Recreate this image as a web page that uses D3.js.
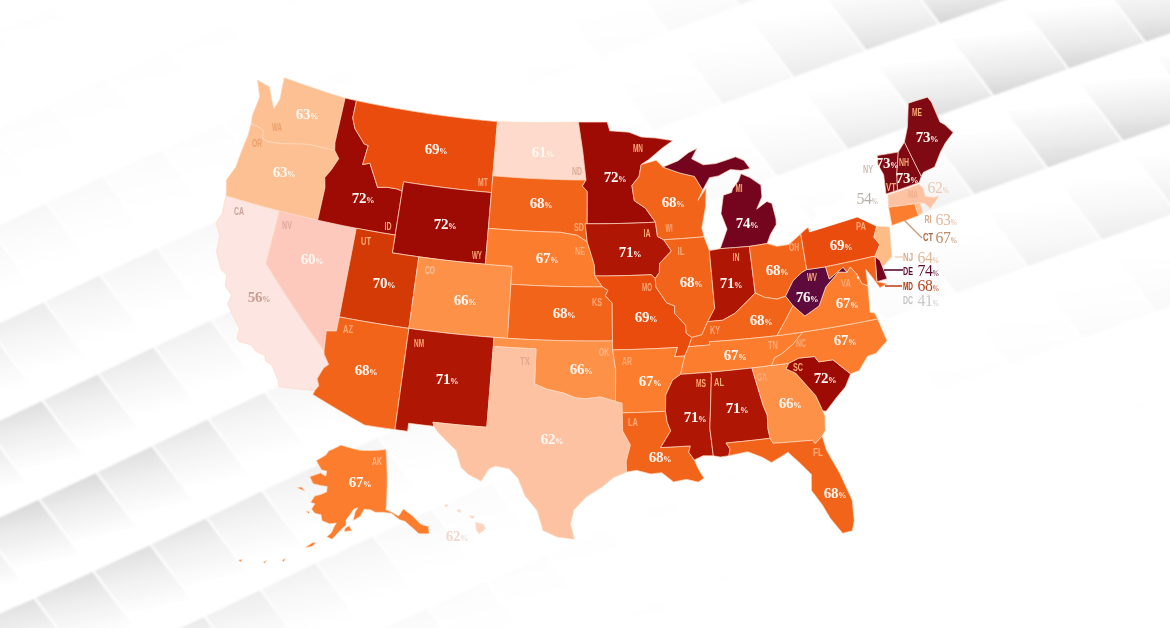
<!DOCTYPE html>
<html>
<head>
<meta charset="utf-8">
<script src="https://cdn.jsdelivr.net/npm/d3@7"></script>
<style>
  html, body { margin: 0; padding: 0; background: #fff; }
  svg { display: block; }
  .state { stroke-width: 0.7; stroke-linejoin: round; }
  .abbr { font-family: "Liberation Sans", sans-serif; font-weight: 700; font-size: 11.5px; text-anchor: middle; }
  .val { font-family: "Liberation Serif", serif; font-weight: 700; font-size: 15px; letter-spacing: -0.3px; text-anchor: middle; }
  .val tspan { font-size: 8.5px; }
  .val.outer { font-weight: 400; font-size: 17.5px; }
  .val.outer tspan { font-size: 8px; }
</style>
</head>
<body>
<svg id="chart" width="1170" height="628"></svg>
<script>
// values, same order everywhere
const stateIds = ["WA","OR","CA","NV","ID","MT","WY","UT","CO","AZ","NM","ND","SD","NE","KS","OK","TX","MN","IA","MO","AR","LA","WI","IL","MI","IN","OH","KY","TN","MS","AL","GA","FL","SC","NC","VA","WV","PA","NY","NJ","DE","MD","DC","CT","RI","MA","VT","NH","ME","AK","HI"];
const stateValues = [63,63,56,60,72,69,72,70,66,68,71,61,68,67,68,66,62,72,71,69,67,68,68,68,74,71,68,68,67,71,71,66,68,72,67,67,76,69,54,64,74,68,41,67,63,62,73,73,73,67,62];

const colorValues = [41,54,56,60,61,62,63,64,66,67,68,69,70,71,72,73,74,76];
const colorRange = ["#ffffff","#ffffff","#fde5e1","#fdc9bd","#fddacb","#fdc2a2","#fdc092","#fdbb86","#fd9148","#fb7d2d","#f3641b","#e94c0d","#d33a05","#b01604","#9e0a04","#7f0a14","#75041f","#5e0a3c"];

// outlines as lon/lat rings
const WA = [[[-124.53,48.71],[-123.4,48.54],[-122.92,47.88],[-122.54,47.43],[-122.29,48.01],[-122.43,49.27],[-117.03,49],[-117.04,46.42],[-116.92,46],[-118.98,46],[-119.6,45.92],[-121.2,45.65],[-122.3,45.55],[-122.76,45.65],[-122.9,46.1],[-123.4,46.2],[-123.98,46.25],[-124.08,46.7],[-123.95,47.84]]];
const OR = [[[-123.98,46.25],[-123.4,46.2],[-122.9,46.1],[-122.76,45.65],[-122.3,45.55],[-121.2,45.65],[-119.6,45.92],[-118.98,46],[-116.92,46],[-116.46,45.6],[-116.85,44.9],[-117.22,44.4],[-117.03,43.85],[-117.03,42],[-124.21,42],[-124.4,42.5],[-124.55,42.84],[-124.15,43.7],[-124.07,44.7],[-123.95,45.6]]];
const CA = [[[-124.21,42],[-120,42],[-120,39],[-114.63,35],[-114.57,34.8],[-114.14,34.3],[-114.43,34.05],[-114.72,33.4],[-114.52,33.03],[-114.72,32.72],[-117.12,32.53],[-117.25,32.85],[-117.9,33.6],[-118.4,33.75],[-118.5,34.03],[-119.2,34.15],[-119.6,34.42],[-120.47,34.45],[-120.65,34.6],[-120.65,35.15],[-121.3,35.7],[-121.9,36.3],[-121.8,36.8],[-122.4,37.2],[-122.5,37.8],[-123,38],[-123.7,38.9],[-123.8,39.8],[-124.35,40.4],[-124.1,41],[-124.2,41.75]]];
const NV = [[[-120,42],[-114.04,42],[-114.04,37],[-114.05,36.2],[-114.74,36.1],[-114.63,35],[-120,39]]];
const ID = [[[-117.03,49],[-116.05,49],[-116.05,48],[-115.7,47.45],[-114.7,46.7],[-114.35,46.65],[-114.5,45.55],[-113.95,45.7],[-113.45,45.05],[-113,44.45],[-112.3,44.55],[-111.5,44.55],[-111.05,44.48],[-111.05,42],[-114.04,42],[-117.03,42],[-117.03,43.85],[-117.22,44.4],[-116.85,44.9],[-116.46,45.6],[-116.92,46],[-117.04,46.42]]];
const MT = [[[-116.05,49],[-104.05,49],[-104.05,45],[-111.05,45],[-111.05,44.48],[-111.5,44.55],[-112.3,44.55],[-113,44.45],[-113.45,45.05],[-113.95,45.7],[-114.5,45.55],[-114.35,46.65],[-114.7,46.7],[-115.7,47.45],[-116.05,48]]];
const WY = [[[-111.05,45],[-104.05,45],[-104.05,41],[-111.05,41]]];
const UT = [[[-114.04,42],[-111.05,42],[-111.05,41],[-109.05,41],[-109.05,37],[-114.04,37]]];
const CO = [[[-109.05,41],[-102.05,41],[-102.05,37],[-109.05,37]]];
const AZ = [[[-114.04,37],[-109.05,37],[-109.05,31.33],[-111.07,31.33],[-114.8,32.5],[-114.72,32.72],[-114.52,33.03],[-114.72,33.4],[-114.43,34.05],[-114.14,34.3],[-114.57,34.8],[-114.63,35],[-114.74,36.1],[-114.05,36.2]]];
const NM = [[[-109.05,37],[-103,37],[-103.04,32],[-106.62,32],[-106.53,31.78],[-108.21,31.78],[-108.21,31.33],[-109.05,31.33]]];
const ND = [[[-104.05,49],[-97.23,49.2],[-96.85,47.6],[-96.56,45.94],[-104.05,45.94]]];
const SD = [[[-104.05,45.94],[-96.56,45.94],[-96.85,45.6],[-96.45,45.3],[-96.45,43.5],[-96.6,43.5],[-96.44,42.49],[-97.2,42.85],[-98.5,43],[-104.05,43]]];
const NE = [[[-104.05,43],[-98.5,43],[-97.2,42.85],[-96.44,42.49],[-96.1,41.7],[-95.9,41.2],[-95.85,40.6],[-95.31,40],[-102.05,40],[-102.05,41],[-104.05,41]]];
const KS = [[[-102.05,40],[-95.31,40],[-94.9,39.8],[-95.1,39.5],[-94.61,39.1],[-94.62,37],[-102.05,37]]];
const OK = [[[-103,37],[-94.62,37],[-94.62,36.5],[-94.43,35.4],[-94.48,33.64],[-95.5,33.9],[-96.5,33.8],[-97.2,33.85],[-98,34.1],[-99.2,34.3],[-100,34.56],[-100,36.5],[-103,36.5]]];
const TX = [[[-106.62,32],[-103.04,32],[-103,36.5],[-100,36.5],[-100,34.56],[-99.2,34.3],[-98,34.1],[-97.2,33.85],[-96.5,33.8],[-95.5,33.9],[-94.48,33.64],[-94.04,33.55],[-94.04,32],[-93.55,31.2],[-93.85,30.3],[-93.84,29.7],[-94.7,29.4],[-95.4,28.9],[-96.4,28.35],[-97.2,27.6],[-97.4,26.8],[-97.15,25.95],[-98.2,26.05],[-99.1,26.4],[-99.5,27.5],[-100.3,28.3],[-100.8,29.25],[-101.4,29.77],[-102.3,29.88],[-102.7,29.7],[-103.15,28.98],[-104,29.3],[-104.5,29.65],[-104.9,30.55],[-106.2,31.47],[-106.53,31.78]]];
const MN = [[[-97.23,49.2],[-94.8,49.2],[-94.6,48.7],[-93,48.6],[-92,48.3],[-90.8,48.2],[-89.5,48],[-90.4,47.6],[-91.5,47],[-92.1,46.75],[-92.3,46.1],[-92.9,45.6],[-92.75,44.75],[-91.9,44.3],[-91.2,43.5],[-96.45,43.5],[-96.45,45.3],[-96.85,45.6],[-96.56,45.94],[-96.85,47.6]]];
const IA = [[[-96.6,43.5],[-91.2,43.5],[-91.1,42.7],[-90.65,42.5],[-90.15,41.85],[-91.05,41.2],[-91.1,40.7],[-91.42,40.38],[-91.7,40.6],[-95.85,40.6],[-95.9,41.2],[-96.1,41.7],[-96.44,42.49]]];
const MO = [[[-95.85,40.6],[-91.7,40.6],[-91.42,40.38],[-91.4,39.9],[-90.7,39],[-90.15,38.8],[-90.2,38.4],[-89.5,37.7],[-89.5,37.25],[-89.15,37],[-89.4,36.5],[-89.7,36],[-90.37,36],[-90.15,36.5],[-94.62,36.5],[-94.62,37],[-94.61,39.1],[-95.1,39.5],[-94.9,39.8],[-95.31,40]]];
const AR = [[[-94.62,36.5],[-90.15,36.5],[-90.37,36],[-89.7,36],[-90.05,35],[-90.6,34.7],[-91.1,33.9],[-91.17,33],[-94.04,33],[-94.04,33.55],[-94.48,33.64],[-94.43,35.4]]];
const LA = [[[-94.04,33],[-91.17,33],[-91.1,32.4],[-90.9,31.9],[-91.6,31],[-89.73,31],[-89.85,30.65],[-89.55,30.2],[-89.3,29.6],[-89.05,29.15],[-89.4,28.95],[-90.1,29.15],[-90.9,29.05],[-91.6,29.6],[-92.3,29.55],[-93.2,29.78],[-93.84,29.7],[-93.85,30.3],[-93.55,31.2],[-94.04,32]]];
const MS = [[[-90.05,35],[-88.2,35],[-88.1,34.9],[-88.47,31.9],[-88.4,30.35],[-89,30.4],[-89.55,30.2],[-89.85,30.65],[-89.73,31],[-91.6,31],[-90.9,31.9],[-91.1,32.4],[-91.17,33],[-91.1,33.9],[-90.6,34.7]]];
const AL = [[[-88.2,35],[-85.6,35],[-85.18,32.87],[-85,32.3],[-85.06,31.55],[-85,31],[-87.6,31],[-87.4,30.65],[-87.5,30.28],[-88,30.25],[-88.4,30.35],[-88.47,31.9],[-88.1,34.9]]];
const GA = [[[-85.6,35],[-83.1,35],[-83.35,34.7],[-82.7,34.4],[-81.9,33.5],[-81.45,33],[-81.1,32.1],[-81,31.8],[-81.15,31],[-81.45,30.72],[-82.05,30.36],[-82.2,30.57],[-84.86,30.7],[-85,31],[-85.06,31.55],[-85,32.3],[-85.18,32.87]]];
const FL = [[[-87.6,31],[-85,31],[-84.86,30.7],[-82.2,30.57],[-82.05,30.36],[-81.45,30.72],[-81.3,29.9],[-80.6,28.5],[-80.05,26.9],[-80.15,25.75],[-80.4,25.2],[-81.1,25.15],[-81.8,26.1],[-82.2,26.9],[-82.8,27.8],[-82.65,28.7],[-83.4,29.5],[-84,30.1],[-85.1,29.65],[-85.6,30],[-86.4,30.4],[-87.5,30.28],[-87.4,30.65]]];
const SC = [[[-83.35,34.7],[-83.1,35],[-82.3,35.2],[-81.05,35.15],[-80.8,34.82],[-79.67,34.8],[-78.55,33.86],[-79.1,33.2],[-79.9,32.7],[-80.85,32.05],[-81.1,32.1],[-81.45,33],[-81.9,33.5],[-82.7,34.4]]];
const NC = [[[-84.32,35],[-84.05,35.4],[-83.5,35.57],[-82.6,36],[-81.68,36.59],[-75.87,36.55],[-75.55,35.25],[-76.5,34.7],[-77.1,34.65],[-77.9,33.95],[-78.55,33.86],[-79.67,34.8],[-80.8,34.82],[-81.05,35.15],[-82.3,35.2],[-83.1,35]]];
const TN = [[[-89.7,36],[-89.4,36.5],[-88.05,36.5],[-88.05,36.68],[-86.5,36.65],[-83.68,36.6],[-81.68,36.59],[-82.6,36],[-83.5,35.57],[-84.05,35.4],[-84.32,35],[-85.6,35],[-88.2,35],[-90.05,35]]];
const KY = [[[-89.15,37],[-88.5,37.1],[-88.05,37.8],[-87.1,37.8],[-86.3,38.1],[-85.4,38.7],[-84.8,39.1],[-84.2,38.8],[-83.3,38.6],[-82.6,38.7],[-82.13,38.12],[-83.68,36.6],[-86.5,36.65],[-88.05,36.68],[-88.05,36.5],[-89.4,36.5]]];
const VA = [[[-83.68,36.6],[-82.13,38.12],[-81.3,37.45],[-80.02,37.87],[-79.22,38.84],[-78.02,39.52],[-77.38,39.42],[-77.06,39.67],[-76.67,39.2],[-76.46,38.65],[-76.06,38.46],[-76.3,37],[-75.99,36.9],[-75.87,36.55],[-81.68,36.59]]];
const WV = [[[-82.6,38.7],[-81.82,39.47],[-81,39.85],[-80.52,39.97],[-78.95,39.94],[-78.83,39.24],[-77.59,39.74],[-77.38,39.42],[-78.02,39.52],[-79.22,38.84],[-80.02,37.87],[-81.3,37.45],[-82.13,38.12]]];
const OH = [[[-84.8,41.7],[-83.45,41.73],[-82.7,41.5],[-81.7,41.5],[-80.52,41.98],[-80.52,39.97],[-81,39.85],[-81.82,39.47],[-82.6,38.7],[-83.3,38.6],[-84.2,38.8],[-84.8,39.1]]];
const IN = [[[-87.53,41.71],[-86.8,41.76],[-84.8,41.7],[-84.8,39.1],[-85.4,38.7],[-86.3,38.1],[-87.1,37.8],[-88.05,37.8],[-87.53,38.5]]];
const IL = [[[-90.65,42.5],[-87.8,42.5],[-87.53,41.71],[-87.53,38.5],[-88.05,37.8],[-88.5,37.1],[-89.15,37],[-89.5,37.25],[-89.5,37.7],[-90.2,38.4],[-90.15,38.8],[-90.7,39],[-91.4,39.9],[-91.42,40.38],[-91.1,40.7],[-91.05,41.2],[-90.15,41.85]]];
const WI = [[[-92.1,46.75],[-90.9,46.95],[-90.4,46.55],[-89.1,46.14],[-88.1,45.9],[-87.6,45.1],[-88,44.55],[-87.35,45.2],[-87.5,44.2],[-87.9,43],[-87.8,42.5],[-90.65,42.5],[-91.1,42.7],[-91.2,43.5],[-91.9,44.3],[-92.75,44.75],[-92.9,45.6],[-92.3,46.1]]];
const MI = [[[-90.4,46.55],[-89.2,46.85],[-88.4,47.25],[-87.75,47.45],[-88.2,46.9],[-87.4,46.5],[-86.5,46.5],[-85,46.75],[-84.4,46.5],[-84,46],[-84.7,45.95],[-85.5,46.08],[-86.4,45.8],[-87.05,45.75],[-87.6,45.1],[-88.1,45.9],[-89.1,46.14]],
  [[-86.8,41.76],[-84.8,41.7],[-83.45,41.73],[-83.1,42.2],[-82.5,42.7],[-82.45,43],[-82.6,43.9],[-83,44.05],[-83.9,43.7],[-83.35,44.35],[-83.3,45],[-84.1,45.5],[-84.75,45.78],[-85,45.4],[-85.5,45],[-85.6,44.8],[-86.2,44.7],[-86.5,43.7],[-86.2,42.8]]];
const PA = [[[-80.52,41.98],[-80.08,42.17],[-79.76,42.27],[-79.76,42],[-75.75,42.31],[-74.46,41.57],[-74.85,41.01],[-74.54,40.55],[-75.09,39.96],[-75.23,39.98],[-78.95,39.94],[-80.52,39.97]]];
const NY = [[[-79.76,42.27],[-78.9,42.85],[-79.05,43.27],[-77.5,43.27],[-76.2,43.55],[-76.3,44.2],[-75,44.98],[-73.15,45.39],[-73.27,44.89],[-73.02,44.26],[-73.2,43.19],[-73.07,43.11],[-73.25,42.45],[-73.33,41.42],[-73.54,41.36],[-74.46,41.57],[-75.75,42.31],[-79.76,42]]];
const NJ = [[[-74.46,41.57],[-73.54,41.36],[-73.87,39.75],[-74.67,39.31],[-75.09,39.96],[-74.54,40.55],[-74.85,41.01]]];
const DE = [[[-75.09,39.96],[-74.79,39.68],[-74.58,38.61],[-75.35,38.57]]];
const MD = [[[-78.95,39.94],[-75.23,39.98],[-75.09,39.96],[-75.35,38.57],[-74.66,38.34],[-75.23,38.21],[-75.68,38.97],[-75.95,39.36],[-76.06,38.46],[-76.46,38.65],[-76.67,39.2],[-77.06,39.67],[-77.38,39.42],[-77.59,39.74],[-78.83,39.24]]];
const DC = [[[-76.75,39.02],[-76.65,39.12],[-76.55,39.02],[-76.65,38.92]]];
const CT = [[[-73.25,42.45],[-71.25,42.28],[-71.2,41.58],[-73.33,41.42]]];
const RI = [[[-71.25,42.28],[-70.85,42.26],[-70.83,41.68],[-71.2,41.58]]];
const MA = [[[-73.07,43.11],[-70.54,43.25],[-70.32,42.97],[-70.34,42.51],[-69.74,42.33],[-69.34,42.31],[-70.21,41.79],[-70.49,42.13],[-70.85,42.26],[-71.25,42.28],[-73.25,42.45]]];
const VT = [[[-73.15,45.39],[-71.46,45.29],[-71.99,44.17],[-72.27,43.24],[-73.2,43.19],[-73.02,44.26],[-73.27,44.89]]];
const NH = [[[-70.78,45.74],[-70.51,44.75],[-70.21,43.65],[-70.49,43.35],[-72.27,43.24],[-71.99,44.17],[-71.46,45.29]]];
const ME = [[[-70.78,45.74],[-70.23,46.5],[-69.63,47.78],[-68.88,47.8],[-67.97,47.8],[-67.77,47.47],[-67.59,46.27],[-67.27,46.03],[-66.83,45.48],[-67.66,45.06],[-68.24,44.65],[-69.02,43.94],[-69.97,43.83],[-70.21,43.65],[-70.51,44.75]]];
const AK = [[[-156.5,71.3],[-152,70.85],[-148,70.4],[-143,70.1],[-135.7,69.7],[-141,60.3],[-139.7,59.9],[-137.5,58.9],[-135.5,59.8],[-133.5,58.4],[-131.8,56.6],[-130,55.9],[-130.5,54.8],[-131.8,55],[-133.2,55.3],[-134.5,56.5],[-136,57.8],[-137.5,58.3],[-139.5,59.6],[-142,60],[-144.5,60.2],[-146,60.7],[-148,60.9],[-149.5,59.8],[-151.8,59.2],[-151,60.6],[-150,61.2],[-151.5,61],[-152.8,60.1],[-154,59.3],[-154,58.5],[-156,57.5],[-158,56.2],[-159.6,56.5],[-158.3,57.2],[-157.7,58.1],[-157,58.8],[-159,58.6],[-161.5,59],[-162,59.9],[-164,60],[-165.3,60.6],[-164.5,61.5],[-166,61.6],[-165,62.7],[-163,63.1],[-161,63.6],[-161,64.5],[-163,64.5],[-166.3,64.6],[-168.1,65.6],[-164.2,66.5],[-162,66.1],[-161.8,66.9],[-164,67],[-166.8,68.35],[-163,69.5],[-162,70.2],[-159,70.8]],
  [[-154.5,57.5],[-152.3,57.6],[-153,58.4],[-154.3,58]],
  [[-171.7,63.4],[-168.8,63.2],[-170.2,63.7]],
  [[-167,60.1],[-165.7,60.1],[-166,59.8]],
  [[-165.2,54.4],[-163.5,55.3],[-162.5,55.4],[-163.4,54.7]],
  [[-170.6,51.6],[-169.8,52],[-170,51.5]],
  [[-174.9,50.5],[-174.3,50.9],[-174.5,50.4]],
  [[-180.8,49.4],[-180,49.7],[-180.2,49.2]]];
const HI = [[[-156,20.25],[-155.1,20],[-154.85,19.5],[-155.6,18.95],[-155.95,19.4]],
  [[-156.7,20.95],[-156.1,20.9],[-156.4,20.6]],
  [[-158.2,21.5],[-157.9,21.7],[-157.7,21.3]],
  [[-159.7,22.1],[-159.3,22.2],[-159.4,21.9]]];
const stateShapes = [WA,OR,CA,NV,ID,MT,WY,UT,CO,AZ,NM,ND,SD,NE,KS,OK,TX,MN,IA,MO,AR,LA,WI,IL,MI,IN,OH,KY,TN,MS,AL,GA,FL,SC,NC,VA,WV,PA,NY,NJ,DE,MD,DC,CT,RI,MA,VT,NH,ME,AK,HI];

// label centres in the page: abbreviation x,y then value x,y
const labelSpots = {
  WA:[277,127,307,114], OR:[257,143,284,172], CA:[239,211,259,297], NV:[287,225,312,259], ID:[388,226,363,198],
  MT:[483,182,436,149], WY:[477,255,445,224], UT:[366,241,384,283], CO:[430,270,465,300], AZ:[348,329,366,370],
  NM:[419,343,447,379], ND:[577,171,543,152], SD:[579,227,541,203], NE:[580,251,547,258], KS:[597,302,564,313],
  OK:[604,352,581,369], TX:[525,361,552,439], MN:[638,148,615,177], IA:[647,233,630,252], MO:[647,287,646,317],
  AR:[627,361,650,381], LA:[633,422,660,457], WI:[669,228,673,202], IL:[681,251,691,282], MI:[739,188,747,223],
  IN:[736,257,731,283], OH:[794,247,777,270], KY:[715,330,761,320], TN:[773,345,735,355], MS:[701,383,695,417],
  AL:[719,382,737,408], GA:[762,377,790,403], FL:[818,452,835,493], SC:[798,367,825,378], NC:[801,343,845,340],
  VA:[846,283,847,303], WV:[812,277,807,297], PA:[861,226,841,245], NY:[868,169,867,198], NJ:[908,257,928,257],
  DE:[908,271,928,270], MD:[908,286,928,285], DC:[908,300,928,300], CT:[928,237,946,237], RI:[928,219,946,219],
  MA:[913,194,938,187], VT:[891,187,887,163], NH:[904,162,907,178], ME:[917,112,927,137], AK:[377,461,360,482], HI:[0,0,457,536]
};
// labels that sit outside the land or on pale fills
const outerValues = ["NY","MA","RI","CT","NJ","DE","MD","DC"];
const valueInk = { CA:"#c99e92", NV:"#fff6f2", HI:"#f0d8cf", NY:"#b9aea4", MA:"#e8c8b4", RI:"#e3b79c", CT:"#c08a63", NJ:"#e0b898", DE:"#5c0a30", MD:"#b8451d", DC:"#c9c9c9" };
const abbrInk = { CA:"#c9a39c", NV:"#e0a99c", ND:"#dcae98", TX:"#e0a990", WA:"#e9a06c", OR:"#e9a06c", NY:"#cdbcb0", MA:"#efb08c", RI:"#dba98a", CT:"#a8683f", NJ:"#dba98a", DE:"#5c0a30", MD:"#a83c16", DC:"#c4c4c4", OK:"#fbb98a", CO:"#fcc49c", AK:"#fcb98c" };
// callout lines: from, to, colour
const callouts = [
  [904,220,922,238,"#c59a74",1.2],
  [895,257,903,257,"#eec4a4",1.2],
  [884,270,903,270,"#5c0a30",1.6],
  [885,286,902,286,"#c8431a",1.6]
];

const width = 1170, height = 628;
const svg = d3.select("#chart");
const defs = svg.append("defs");
defs.append("filter").attr("id", "soft").append("feGaussianBlur").attr("stdDeviation", 1.2);

// background: pillowed tiles on a slanted lattice
function lattice(u, v) {
  return [98 + 54 * u + 55 * v + 0.75 * v * Math.abs(v), 373 + 72 * u - 26.8 * v];
}
function shadeLow(x, y) {
  return 0.02 + 0.95 * Math.exp(-(((x - 40) / 290) ** 2 + ((y - 540) / 230) ** 2));
}
function shadeHigh(x, y) {
  return Math.min(1, 1.25 * Math.exp(-(((x - 1060) / 270) ** 2 + ((y - 20) / 175) ** 2)));
}
const tiles = [];
for (let u = -14; u < 14; u++) {
  for (let v = -8; v < 24; v++) {
    // left, top, right, bottom corners of the tile
    const pts = [lattice(u, v), lattice(u, v + 1), lattice(u + 1, v + 1), lattice(u + 1, v)];
    const cx = d3.mean(pts, p => p[0]), cy = d3.mean(pts, p => p[1]);
    if (cx < -120 || cx > width + 120 || cy < -120 || cy > height + 120) continue;
    const high = shadeHigh(cx, cy), low = shadeLow(cx, cy);
    const a = [pts[2][0] - pts[1][0], pts[2][1] - pts[1][1]], b = [pts[1][0] - pts[0][0], pts[1][1] - pts[0][1]];
    const d = [a[0] - 0.6 * b[0], a[1] - 0.6 * b[1]];
    // gray starts at the top corner low on the left, at the bottom corner top right
    const from = high > low ? pts[3] : pts[1];
    const to = high > low ? [from[0] - d[0], from[1] - d[1]] : [from[0] + d[0], from[1] + d[1]];
    tiles.push({ id: "tile" + tiles.length, pts, from, to, s: Math.min(1, Math.max(high, low)) });
  }
}
const tileFill = defs.selectAll("linearGradient").data(tiles).join("linearGradient")
  .attr("id", d => d.id)
  .attr("gradientUnits", "userSpaceOnUse")
  .attr("x1", d => d.from[0]).attr("y1", d => d.from[1])
  .attr("x2", d => d.to[0]).attr("y2", d => d.to[1]);
tileFill.append("stop").attr("offset", "0%").attr("stop-color", "#d6d6d6");
tileFill.append("stop").attr("offset", "30%").attr("stop-color", "#ebebeb");
tileFill.append("stop").attr("offset", "72%").attr("stop-color", "#ffffff");

svg.append("rect").attr("width", width).attr("height", height).attr("fill", "#fff");
svg.append("g").attr("filter", "url(#soft)")
  .selectAll("polygon").data(tiles).join("polygon")
  .attr("points", d => d.pts.join(" "))
  .attr("fill", d => `url(#${d.id})`)
  .attr("opacity", d => d.s)
  .attr("stroke", "#fff")
  .attr("stroke-width", 2);

// projections: lower 48, Alaska and Hawaii insets
const lower48 = d3.geoConicEqualArea().parallels([29.5, 45.5]).rotate([96, 0]).center([0, 37.5]).scale(1025).translate([593, 332]);
const alaska = d3.geoConicEqualArea().parallels([55, 65]).rotate([154, 0]).center([-2, 58.5]).scale(359).translate([339.5, 525]);
const hawaii = d3.geoConicEqualArea().parallels([8, 18]).rotate([157, 0]).center([1.5, 19.6]).scale(520).translate([480, 528]);

function pathFor(projection, stretch) {
  return d3.geoPath(d3.geoTransform({
    point(x, y) {
      const p = projection([stretch ? x + stretch(x) : x, y]);
      this.stream.point(p[0], p[1]);
    }
  }));
}
// the source map is a little wider through the Ohio valley
const ohioStretch = lon => 0.65 * Math.exp(-(((lon + 84) / 4.2) ** 2));
const paths = { lower: pathFor(lower48, ohioStretch), AK: pathFor(alaska), HI: pathFor(hawaii) };

// add points along long edges so borders follow the parallels
function densify(ring) {
  const out = [];
  ring.forEach((p, i) => {
    const q = ring[(i + 1) % ring.length];
    const steps = Math.max(1, Math.ceil(Math.max(Math.abs(q[0] - p[0]), Math.abs(q[1] - p[1]))));
    for (let k = 0; k < steps; k++) out.push([p[0] + (q[0] - p[0]) * k / steps, p[1] + (q[1] - p[1]) * k / steps]);
  });
  out.push(out[0]);
  return out;
}

const color = d3.scaleOrdinal().domain(colorValues).range(colorRange);
const states = d3.zip(stateIds, stateValues, stateShapes).map(([id, value, rings]) => ({
  id, value,
  geo: { type: "MultiPolygon", coordinates: rings.map(r => [densify(r)]) }
}));

svg.append("g").selectAll("path").data(states).join("path")
  .attr("class", "state")
  .attr("d", d => (paths[d.id] || paths.lower)(d.geo))
  .attr("fill", d => color(d.value))
  .attr("stroke", d => (d.id === "NY" || d.id === "DC") ? "none" : "#fdd9c0")
  .attr("opacity", d => d.id === "HI" ? 0.7 : 1);

svg.append("g").selectAll("line").data(callouts).join("line")
  .attr("x1", d => d[0]).attr("y1", d => d[1]).attr("x2", d => d[2]).attr("y2", d => d[3])
  .attr("stroke", d => d[4]).attr("stroke-width", d => d[5]);

svg.append("g").selectAll("text").data(states.filter(d => d.id !== "HI")).join("text")
  .attr("class", "abbr")
  .attr("x", d => labelSpots[d.id][0]).attr("y", d => labelSpots[d.id][1]).attr("dy", "0.35em")
  .attr("textLength", d => d.id.includes("I") ? 7 : 10).attr("lengthAdjust", "spacingAndGlyphs")
  .attr("fill", d => abbrInk[d.id] || "#fcab78")
  .text(d => d.id);

const vals = svg.append("g").selectAll("text").data(states).join("text")
  .attr("class", d => outerValues.includes(d.id) ? "val outer" : "val")
  .attr("x", d => labelSpots[d.id][2]).attr("y", d => labelSpots[d.id][3]).attr("dy", "0.35em")
  .attr("fill", d => valueInk[d.id] || "#fff8f2")
  .text(d => d.value);
vals.filter(d => outerValues.includes(d.id)).attr("textLength", 21).attr("lengthAdjust", "spacingAndGlyphs");
vals.append("tspan").text("%");
</script>
</body>
</html>
